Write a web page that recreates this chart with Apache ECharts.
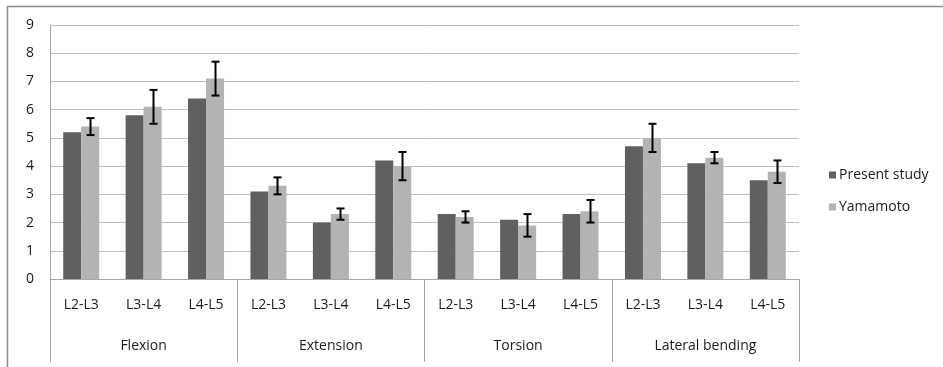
<!DOCTYPE html>
<html><head><meta charset="utf-8">
<script src="https://cdn.jsdelivr.net/npm/echarts@6/dist/echarts.min.js"></script>
<style>html,body{margin:0;padding:0;background:#fff}#c{width:943px;height:367px}</style>
</head><body><div id="c"></div>
<script>
const levels = ['L2-L3','L3-L4','L4-L5','L2-L3','L3-L4','L4-L5','L2-L3','L3-L4','L4-L5','L2-L3','L3-L4','L4-L5'];
const groups = ['Flexion','Extension','Torsion','Lateral bending'];
const presentStudy = [5.2,5.8,6.4, 3.1,2.0,4.2, 2.3,2.1,2.3, 4.7,4.1,3.5];
const yamamoto     = [5.4,6.1,7.1, 3.3,2.3,4.0, 2.2,1.9,2.4, 5.0,4.3,3.8];
const yamamotoErr  = [0.3,0.6,0.6, 0.3,0.2,0.5, 0.2,0.4,0.4, 0.5,0.2,0.4];
const yTicks = [0,1,2,3,4,5,6,7,8,9];

const FONT = 'Open Sans';
const FS = 14;
const BAR_W = 18;
const chart = echarts.init(document.getElementById('c'), null, {renderer:'canvas'});
chart.setOption({
  animation:false,
  textStyle:{fontFamily:FONT},
  graphic:[
    {type:'line', shape:{x1:7,y1:6.5,x2:943,y2:6.5}, style:{stroke:'#8c8c8c',lineWidth:1.5}},
    {type:'line', shape:{x1:7.5,y1:6,x2:7.5,y2:367}, style:{stroke:'#8c8c8c',lineWidth:1.5}}
  ],
  legend:{
    orient:'vertical', left:824, top:163, itemWidth:7, itemHeight:7, itemGap:18,
    icon:'rect',
    textStyle:{fontFamily:FONT, fontSize:FS, color:'#1a1a1a', padding:[0,0,0,-2]},
    data:['Present study','Yamamoto']
  },
  grid:{left:50, right:144, top:25, bottom:88, containLabel:false},
  xAxis:[
    {type:'category', data:levels, position:'bottom',
     axisLine:{show:true, lineStyle:{color:'#a6a6a6', width:1}},
     axisTick:{show:false},
     axisLabel:{interval:0, margin:19, fontSize:FS, color:'#1a1a1a', fontFamily:FONT}},
    {type:'category', data:groups, position:'bottom',
     axisLine:{show:false},
     axisTick:{show:true, length:83, interval:0, lineStyle:{color:'#a6a6a6', width:1}},
     axisLabel:{interval:0, margin:60, fontSize:FS, color:'#1a1a1a', fontFamily:FONT}}
  ],
  yAxis:{
    type:'value', min:yTicks[0], max:yTicks[yTicks.length-1], interval:1,
    axisLine:{show:true, lineStyle:{color:'#a6a6a6'}},
    axisTick:{show:false},
    axisLabel:{margin:16, fontSize:FS, color:'#1a1a1a', fontFamily:FONT},
    splitLine:{lineStyle:{color:'#bfbfbf', width:1}}
  },
  series:[
    {name:'Present study', type:'bar', data:presentStudy, barWidth:BAR_W, barGap:'0%',
     itemStyle:{color:'#606060'}},
    {name:'Yamamoto', type:'bar', data:yamamoto, barWidth:BAR_W, barGap:'0%',
     itemStyle:{color:'#b3b3b3'}},
    {name:'err', type:'custom', z:10,
     data:yamamoto.map((v,i)=>[i, v-yamamotoErr[i], v+yamamotoErr[i]]),
     renderItem:function(params, api){
       const i = api.value(0);
       const lo = api.coord([i, api.value(1)]);
       const hi = api.coord([i, api.value(2)]);
       const x = Math.round(lo[0] + BAR_W/2) + 0.5;
       const cap = 4;
       const st = {stroke:'#000', lineWidth:2};
       return {type:'group', children:[
         {type:'line', shape:{x1:x,y1:hi[1],x2:x,y2:lo[1]}, style:st},
         {type:'line', shape:{x1:x-cap,y1:hi[1],x2:x+cap,y2:hi[1]}, style:st},
         {type:'line', shape:{x1:x-cap,y1:lo[1],x2:x+cap,y2:lo[1]}, style:st}
       ]};
     }}
  ]
});
</script></body></html>
